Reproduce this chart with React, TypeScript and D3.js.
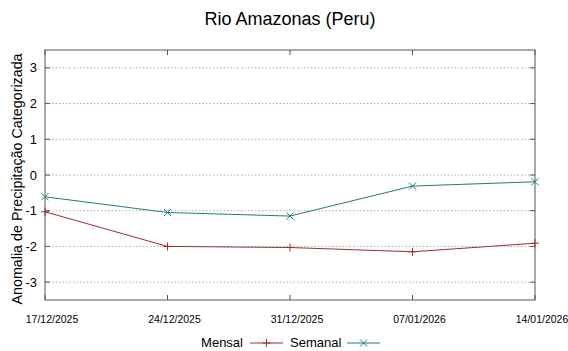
import React from "react";
import * as d3 from "d3";

const dates = ["17/12/2025", "24/12/2025", "31/12/2025", "07/01/2026", "14/01/2026"];
const mensal = [-1.03, -2.0, -2.03, -2.15, -1.91];
const semanal = [-0.61, -1.05, -1.15, -0.31, -0.19];
const yTicks = [-3, -2, -1, 0, 1, 2, 3];

const W = 568, H = 351;
const M = { left: 45, right: 535, top: 50, bottom: 300 };
const RED = "#a52a2a";
const TEAL = "#1a7f7f";
const FONT = "Liberation Sans, Arial, sans-serif";

export default function App() {
  const x = d3.scalePoint<string>().domain(dates).range([M.left, M.right]);
  const y = d3.scaleLinear().domain([-3.5, 3.5]).range([M.bottom, M.top]);
  const line = d3.line<number>().x((_, i) => x(dates[i])!).y((d) => y(d));

  const plus = (cx: number, cy: number, k: string) => (
    <path key={k} d={`M${cx - 4},${cy}H${cx + 4}M${cx},${cy - 4}V${cy + 4}`} stroke={RED} strokeWidth={1} />
  );
  const cross = (cx: number, cy: number, k: string) => (
    <path key={k} d={`M${cx - 3.5},${cy - 3.5}L${cx + 3.5},${cy + 3.5}M${cx - 3.5},${cy + 3.5}L${cx + 3.5},${cy - 3.5}`} stroke={TEAL} strokeWidth={1} />
  );

  return (
    <svg width={W} height={H} style={{ position: "absolute", left: 0, top: 0, background: "#fff" }} fontFamily={FONT}>
      <rect width={W} height={H} fill="#fff" />
      <text x={290} y={25} textAnchor="middle" fontSize={18} fill="#000">Rio Amazonas (Peru)</text>
      {yTicks.map((t) => (
        <g key={t}>
          <line x1={M.left} x2={M.right} y1={y(t)} y2={y(t)} stroke="#aaa" strokeWidth={1} strokeDasharray="1.5,2" />
          <line x1={M.left} x2={M.left + 5} y1={y(t)} y2={y(t)} stroke="#555" />
          <line x1={M.right - 5} x2={M.right} y1={y(t)} y2={y(t)} stroke="#555" />
          <text x={37} y={y(t) + 4.5} textAnchor="end" fontSize={13} fill="#000">{t}</text>
        </g>
      ))}
      {dates.map((d) => (
        <g key={d}>
          <line x1={x(d)} x2={x(d)} y1={M.bottom} y2={M.bottom - 5} stroke="#555" />
          <line x1={x(d)} x2={x(d)} y1={M.top} y2={M.top + 5} stroke="#555" />
          <text x={x(d)! + 7} y={323} textAnchor="middle" fontSize={10.5} fill="#000">{d}</text>
        </g>
      ))}
      <rect x={M.left} y={M.top} width={M.right - M.left} height={M.bottom - M.top} fill="none" stroke="#555" strokeWidth={1} />
      <text transform={`translate(22,${(M.top + M.bottom) / 2 + 4}) rotate(-90)`} textAnchor="middle" fontSize={14.3} fill="#000">Anomalia de Precipitação Categorizada</text>
      <path d={line(mensal)!} fill="none" stroke={RED} strokeWidth={1} />
      <path d={line(semanal)!} fill="none" stroke={TEAL} strokeWidth={1} />
      {mensal.map((v, i) => plus(x(dates[i])!, y(v), "m" + i))}
      {semanal.map((v, i) => cross(x(dates[i])!, y(v), "s" + i))}
      <text x={243} y={347} textAnchor="end" fontSize={13} fill="#000">Mensal</text>
      <line x1={250} x2={283} y1={343} y2={343} stroke={RED} />
      {plus(266.5, 343, "lm")}
      <text x={290} y={347} fontSize={13} fill="#000">Semanal</text>
      <line x1={347} x2={380} y1={343} y2={343} stroke={TEAL} />
      {cross(363.5, 343, "ls")}
    </svg>
  );
}
